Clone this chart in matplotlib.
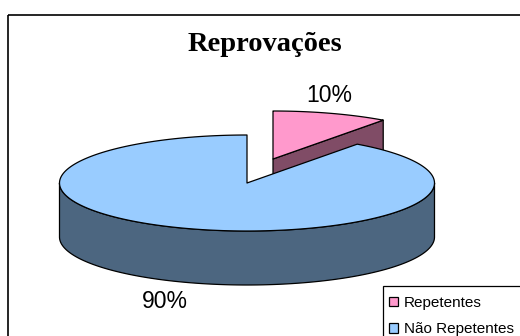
import numpy as np
import matplotlib
matplotlib.use("Agg")
import matplotlib.pyplot as plt
from matplotlib.patches import Polygon, Rectangle, Patch

# Data
categories = ["Repetentes", "Não Repetentes"]
shares = [10, 90]
labels = ["10%", "90%"]
top_colors = ["#FF99CC", "#99CCFF"]
side_colors = ["#804C66", "#4C6680"]
title = "Reprovações"

fig = plt.figure(figsize=(5.2, 3.36), dpi=100)
ax = fig.add_axes([0, 0, 1, 1])
ax.set_xlim(0, 520)
ax.set_ylim(336, 0)
ax.axis("off")

# Outer chart frame (runs past the right and bottom edges)
ax.add_patch(Rectangle((8, 15), 530, 340, fill=False, lw=1.2, ec="black", zorder=1))

# Pie geometry (pixel units)
cx, cy = 247, 183
rx, ry = 187.5, 48
depth = 54
offsets = [(26, -24), (0, 0)]   # exploded first slice
edge_kw = dict(ec="black", lw=0.9, joinstyle="round")


def pt(theta_deg, ox, oy, dz=0.0):
    t = np.radians(theta_deg)
    return (cx + ox + rx * np.cos(t), cy + oy - ry * np.sin(t) + dz)


def arc(t_from, t_to, ox, oy, dz=0.0, n=200):
    ts = np.linspace(t_from, t_to, n)
    return [pt(t, ox, oy, dz) for t in ts]


total = float(sum(shares))
bounds = []
start = 90.0
for v in shares:
    end = start - 360.0 * v / total
    bounds.append((start, end))
    start = end

# draw back slices first
order = sorted(range(len(shares)),
               key=lambda i: -np.sin(np.radians((bounds[i][0] + bounds[i][1]) / 2)))

z = 2
for i in order:
    t0, t1 = bounds[i]
    ox, oy = offsets[i]
    c = (cx + ox, cy + oy)
    cb = (cx + ox, cy + oy + depth)
    # radial cut faces
    for t, nrm in ((t1, t1 - 90), (t0, t0 + 90)):
        if np.sin(np.radians(nrm)) < -1e-6:
            poly = [c, pt(t, ox, oy), pt(t, ox, oy, depth), cb]
            ax.add_patch(Polygon(poly, closed=True, fc=side_colors[i], zorder=z, **edge_kw))
            z += 1
    # outer cylinder wall, front half only
    for k in range(-2, 3):
        lo, hi = -180 + 360 * k, 360 * k
        a, b = max(lo, t1), min(hi, t0)
        if b > a:
            poly = arc(a, b, ox, oy) + arc(b, a, ox, oy, depth)
            ax.add_patch(Polygon(poly, closed=True, fc=side_colors[i], zorder=z, **edge_kw))
            z += 1
    # top face
    poly = [c] + arc(t0, t1, ox, oy)
    ax.add_patch(Polygon(poly, closed=True, fc=top_colors[i], zorder=z, **edge_kw))
    z += 1

# Percent labels
label_pos = [(329, 96), (165, 302)]
for txt, (lx, ly) in zip(labels, label_pos):
    ax.text(lx, ly, txt, ha="center", va="center", fontsize=16.5,
            family="Liberation Sans", color="black", zorder=20)

# Title
ax.text(264.5, 51, title, ha="center", va="baseline", fontsize=20.5,
        family="Liberation Serif", fontweight="bold", zorder=20)

# Legend box (extends past the canvas edge)
ax.add_patch(Rectangle((383, 286), 200, 100, fc="white", ec="black", lw=0.9, zorder=25))
handles = [Patch(fc=top_colors[i], ec="black", lw=0.9) for i in range(len(categories))]
leg = ax.legend(handles, categories, loc="upper left",
                bbox_to_anchor=(382 / 520, 1 - 289 / 336), bbox_transform=fig.transFigure,
                frameon=False,
                prop=dict(family="Liberation Sans", size=11),
                borderpad=0.45, handlelength=0.62, handleheight=0.62,
                handletextpad=0.35, labelspacing=0.82, borderaxespad=0)
leg.set_zorder(30)

fig.savefig("out.png", dpi=100)
